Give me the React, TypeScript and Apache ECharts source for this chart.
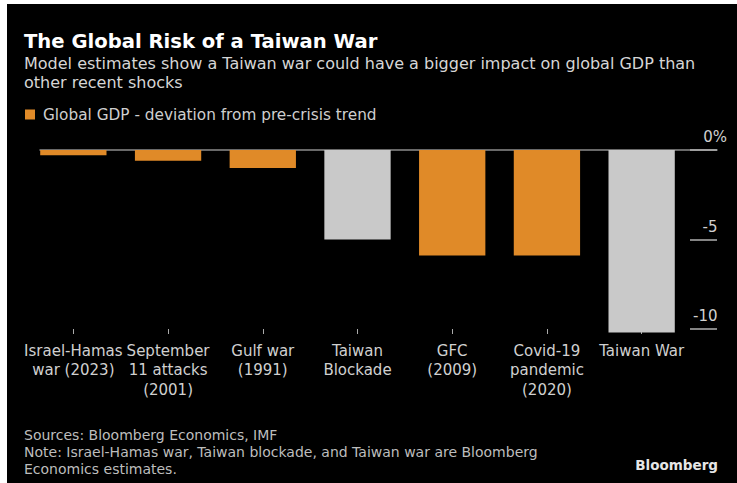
import React, { useEffect, useRef } from "react";
import * as echarts from "echarts";

const categories = [
  "Israel-Hamas\nwar (2023)",
  "September\n11 attacks\n(2001)",
  "Gulf war\n(1991)",
  "Taiwan\nBlockade",
  "GFC\n(2009)",
  "Covid-19\npandemic\n(2020)",
  "Taiwan War",
];
const gdpDeviation = [-0.3, -0.6, -1.0, -5.0, -5.9, -5.9, -10.2];
const isEstimate = [false, false, false, true, false, false, true];
const yTicks = { min: -10, max: 0, interval: 5 };

const titleText = "The Global Risk of a Taiwan War";
const subtitleText =
  "Model estimates show a Taiwan war could have a bigger impact on global GDP than\nother recent shocks";
const legendName = "Global GDP - deviation from pre-crisis trend";
const footerText =
  "Sources: Bloomberg Economics, IMF\nNote: Israel-Hamas war, Taiwan blockade, and Taiwan war are Bloomberg\nEconomics estimates.";
const brandText = "Bloomberg";

const FONT = "'DejaVu Sans', sans-serif";
const ORANGE = "#e08a28";
const GREY = "#c9c9c9";

export default function App() {
  const ref = useRef<HTMLDivElement>(null);

  useEffect(() => {
    if (!ref.current) return;
    const chart = echarts.init(ref.current, null, { renderer: "svg" });
    chart.setOption({
      animation: false,
      backgroundColor: "transparent",
      textStyle: { fontFamily: FONT },
      title: [
        {
          text: titleText,
          left: 24,
          top: 30,
          padding: 0,
          textStyle: { color: "#ffffff", fontSize: 19.6, fontWeight: "bold", fontFamily: FONT, lineHeight: 22 },
        },
        {
          text: subtitleText,
          left: 24,
          top: 54,
          padding: 0,
          textStyle: { color: "#d6d6d6", fontSize: 16, fontWeight: "normal", fontFamily: FONT, lineHeight: 19 },
        },
        {
          text: footerText,
          left: 24,
          top: 426,
          padding: 0,
          textStyle: { color: "#bdbdbd", fontSize: 14, fontWeight: "normal", fontFamily: FONT, lineHeight: 17 },
        },
        {
          text: brandText,
          right: 19,
          top: 456,
          padding: 0,
          textStyle: { color: "#e6e6e6", fontSize: 13.5, fontWeight: "bold", fontFamily: FONT, lineHeight: 18 },
        },
      ],
      legend: {
        left: 25,
        top: 107,
        padding: 0,
        itemWidth: 10,
        itemHeight: 10,
        icon: "rect",
        data: [legendName],
        textStyle: { color: "#cfcfcf", fontSize: 15.3, fontFamily: FONT, padding: [0, 0, 0, 3] },
      },
      grid: [
        { left: 26, right: 48, top: 150, height: 179, containLabel: false },
        { left: 40, right: 20, top: 150, height: 179, containLabel: false },
      ],
      xAxis: [
        {
          type: "category",
          gridIndex: 0,
          data: categories,
          position: "bottom",
          axisLine: { show: false, onZero: false },
          axisTick: { show: true, alignWithLabel: true, length: 5, lineStyle: { color: "#aaaaaa", width: 1 } },
          axisLabel: {
            interval: 0,
            color: "#d0d0d0",
            fontSize: 15,
            lineHeight: 19.5,
            margin: 12,
            fontFamily: FONT,
          },
          splitLine: { show: false },
        },
        {
          type: "value",
          gridIndex: 1,
          min: 0,
          max: 1,
          position: "top",
          axisLine: { show: true, onZero: false, lineStyle: { color: "#8c8c8c", width: 1.5 } },
          axisTick: { show: false },
          axisLabel: { show: false },
          splitLine: { show: false },
        },
      ],
      yAxis: [
        {
          type: "value",
          gridIndex: 0,
          min: yTicks.min,
          max: yTicks.max,
          interval: yTicks.interval,
          show: false,
        },
        {
          type: "value",
          gridIndex: 1,
          min: yTicks.min,
          max: yTicks.max,
          interval: yTicks.interval,
          position: "right",
          axisLine: { show: false, onZero: false },
          axisTick: { show: true, inside: true, length: 27, lineStyle: { color: "#b0b0b0", width: 1.5 } },
          splitLine: { show: false },
          axisLabel: {
            inside: true,
            margin: -10,
            verticalAlign: "bottom",
            padding: [0, 0, 5, 0],
            lineHeight: 16,
            fontSize: 15,
            color: "#d0d0d0",
            fontFamily: FONT,
            formatter: (v: number) => (v === 0 ? "{a|0%}" : "{a|" + v + "}{h|%}"),
            rich: {
              a: { color: "#d0d0d0", fontSize: 15, fontFamily: FONT, lineHeight: 16 },
              h: { color: "rgba(0,0,0,0)", fontSize: 10, fontFamily: FONT, lineHeight: 16 },
            },
          },
        },
      ],
      series: [
        {
          name: legendName,
          type: "bar",
          xAxisIndex: 0,
          yAxisIndex: 0,
          barCategoryGap: "30%",
          clip: false,
          itemStyle: { color: ORANGE },
          z: 3,
          data: gdpDeviation.map((v, i) => ({
            value: v,
            itemStyle: { color: isEstimate[i] ? GREY : ORANGE },
          })),
        },
      ],
    });
    return () => chart.dispose();
  }, []);

  return (
    <div style={{ position: "fixed", left: 0, top: 0, width: 737, height: 483, background: "#ffffff" }}>
      <div style={{ position: "absolute", left: 7, top: 4, right: 0, bottom: 0, background: "#000000" }} />
      <div ref={ref} style={{ position: "absolute", left: 0, top: 0, width: 737, height: 483 }} />
    </div>
  );
}
